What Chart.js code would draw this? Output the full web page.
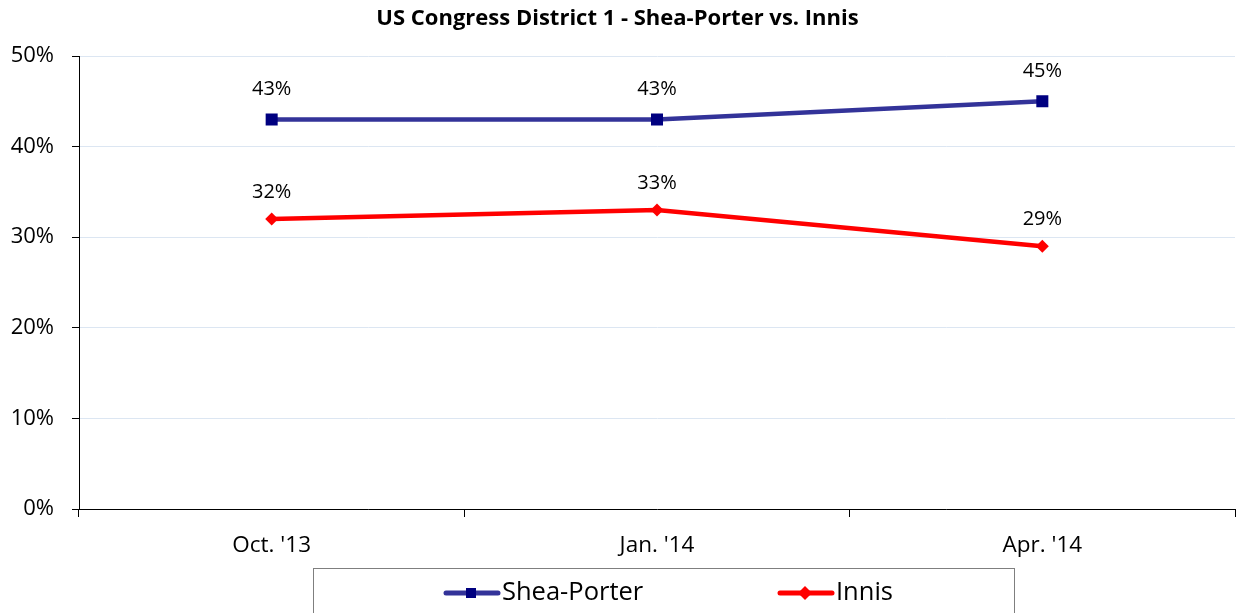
<!DOCTYPE html>
<html>
<head>
<meta charset="utf-8">
<script src="https://cdn.jsdelivr.net/npm/chart.js@4.4.0/dist/chart.umd.min.js"></script>
<style>
  html, body { margin: 0; padding: 0; background: #fff; }
  #wrap { width: 1236px; height: 613px; }
</style>
</head>
<body>
<div id="wrap"><canvas id="myChart" width="1236" height="613"></canvas></div>
<script>
// chart data
var categories = ["Oct. '13", "Jan. '14", "Apr. '14"];
var sheaPorter = [43, 43, 45];
var innis = [32, 33, 29];
var yTicks = [0, 10, 20, 30, 40, 50];

var FONT = "'Open Sans', sans-serif";

// value labels above each point
var pointLabels = {
    id: 'pointLabels',
    afterDatasetsDraw: function(chart) {
        var ctx = chart.ctx;
        ctx.save();
        ctx.font = '20px ' + FONT;
        ctx.fillStyle = '#000';
        ctx.textAlign = 'center';
        ctx.textBaseline = 'middle';
        chart.data.datasets.forEach(function(ds, i) {
            chart.getDatasetMeta(i).data.forEach(function(pt, j) {
                var off = i === 0 ? 30 : 27;
                ctx.fillText(ds.data[j] + '%', pt.x, pt.y - off);
            });
        });
        ctx.restore();
    }
};

// boxed legend at the bottom, like the original
var boxLegend = {
    id: 'boxLegend',
    afterDraw: function(chart) {
        var ctx = chart.ctx;
        ctx.save();
        ctx.strokeStyle = '#7f7f7f';
        ctx.lineWidth = 1;
        ctx.strokeRect(313.5, 568.5, 701, 60);
        var items = [
            { x: 444, ds: chart.data.datasets[0], shape: 'rect' },
            { x: 778, ds: chart.data.datasets[1], shape: 'diamond' }
        ];
        var y = 593;
        items.forEach(function(it) {
            ctx.strokeStyle = it.ds.borderColor;
            ctx.lineWidth = 5;
            ctx.lineCap = 'round';
            ctx.beginPath();
            ctx.moveTo(it.x + 2, y);
            ctx.lineTo(it.x + 54, y);
            ctx.stroke();
            var cx = it.x + 27;
            ctx.fillStyle = it.ds.pointBackgroundColor;
            ctx.beginPath();
            if (it.shape === 'rect') {
                ctx.rect(cx - 5, y - 5, 10, 10);
            } else {
                ctx.moveTo(cx, y - 7);
                ctx.lineTo(cx + 7, y);
                ctx.lineTo(cx, y + 7);
                ctx.lineTo(cx - 7, y);
                ctx.closePath();
            }
            ctx.fill();
            ctx.fillStyle = '#000';
            ctx.font = '25.5px ' + FONT;
            ctx.textAlign = 'left';
            ctx.textBaseline = 'middle';
            ctx.fillText(it.ds.label, it.x + 58, y);
        });
        ctx.restore();
    }
};

var ctx = document.getElementById('myChart').getContext('2d');
var myChart = new Chart(ctx, {
    type: 'line',
    data: {
        labels: categories,
        datasets: [{
            label: 'Shea-Porter',
            data: sheaPorter,
            borderColor: '#333399',
            backgroundColor: '#000080',
            pointBackgroundColor: '#000080',
            pointBorderColor: '#000080',
            pointStyle: 'rect',
            pointRadius: 8.5,
            pointBorderWidth: 0,
            borderWidth: 4.5,
            tension: 0
        }, {
            label: 'Innis',
            data: innis,
            borderColor: '#ff0000',
            backgroundColor: '#ff0000',
            pointBackgroundColor: '#ff0000',
            pointBorderColor: '#ff0000',
            pointStyle: 'rectRot',
            pointRadius: 6.5,
            pointBorderWidth: 0,
            borderWidth: 4.5,
            tension: 0
        }]
    },
    options: {
        responsive: false,
        animation: false,
        layout: {
            autoPadding: false,
            padding: { left: 0, right: 1, top: 0, bottom: 0 }
        },
        plugins: {
            legend: { display: false },
            tooltip: { enabled: false },
            title: {
                display: true,
                text: 'US Congress District 1 - Shea-Porter vs. Innis',
                color: '#000',
                font: { family: FONT, size: 22, weight: 'bold', lineHeight: 1.2 },
                padding: { top: 6, bottom: 23.6 }
            }
        },
        scales: {
            x: {
                offset: true,
                grid: {
                    offset: true,
                    drawOnChartArea: false,
                    drawTicks: true,
                    tickLength: 8,
                    tickColor: '#000'
                },
                border: { color: '#000', width: 1 },
                ticks: {
                    color: '#000',
                    font: { family: FONT, size: 22.5 },
                    padding: 15
                },
                afterFit: function(s) {
                    s.height = 104;
                    s.paddingLeft = 0;
                    s.paddingRight = 0;
                }
            },
            y: {
                min: 0,
                max: 50,
                afterBuildTicks: function(s) {
                    s.ticks = yTicks.map(function(v) { return { value: v }; });
                },
                grid: {
                    color: '#dce6f2',
                    tickColor: '#000',
                    tickLength: 7,
                    drawTicks: true
                },
                border: { color: '#000', width: 1 },
                ticks: {
                    color: '#000',
                    font: { family: FONT, size: 22 },
                    padding: 18,
                    callback: function(v) { return v + '%'; }
                },
                afterFit: function(s) { s.width = 79; }
            }
        }
    },
    plugins: [pointLabels, boxLegend]
});
</script>
</body>
</html>
